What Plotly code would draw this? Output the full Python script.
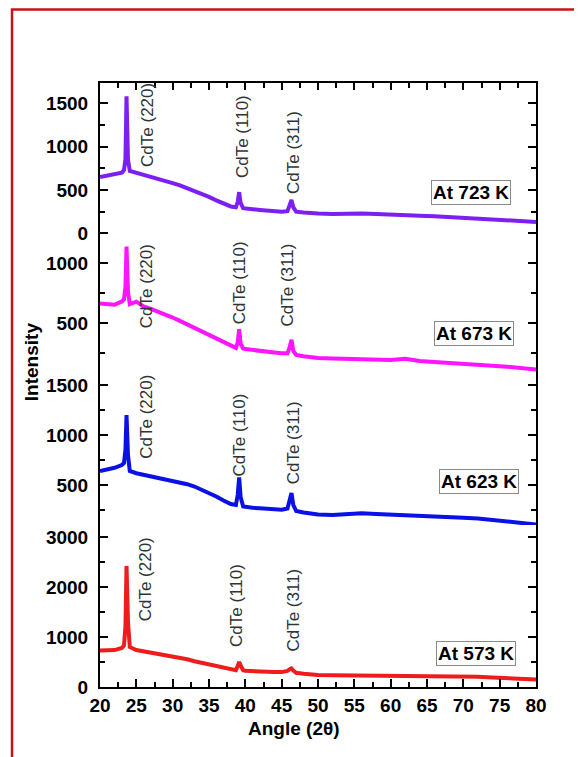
import plotly.graph_objects as go
from plotly.subplots import make_subplots

# ---- data ----
angle = [20, 21, 22, 23, 23.3, 23.5, 23.65, 23.85, 24.1, 25, 26, 27, 28, 29, 30, 31, 32, 33,
         34, 35, 36, 37, 38, 38.7, 38.95, 39.15, 39.35, 39.7, 40, 41, 42, 43, 44, 45, 45.8,
         46.1, 46.35, 46.6, 47, 48, 49, 50, 52, 54, 56, 58, 60, 62, 64, 66, 68, 70, 72, 74,
         76, 78, 80]

i_723 = [650, 665, 680, 700, 730, 850, 1580, 850, 720, 700, 675, 650, 628, 605, 580, 552, 520, 490,
         455, 420, 380, 345, 310, 300, 360, 475, 350, 290, 285, 278, 270, 262, 256, 250, 255,
         320, 385, 300, 250, 240, 232, 228, 224, 228, 230, 222, 212, 208, 203, 198, 190, 182, 175, 165,
         158, 148, 132]

i_673 = [665, 660, 655, 680, 700, 800, 1140, 760, 660, 680, 640, 620, 598, 575, 548, 520, 490, 460,
         430, 400, 370, 340, 310, 295, 340, 450, 330, 290, 285, 276, 269, 262, 256, 250, 250,
         300, 362, 270, 236, 225, 215, 210, 206, 204, 202, 198, 194, 205, 185, 178, 172, 166, 158, 147,
         138, 128, 115]

i_623 = [640, 655, 672, 700, 720, 850, 1200, 800, 640, 618, 602, 590, 580, 562, 548, 528, 508, 485,
         455, 420, 385, 345, 310, 300, 400, 575, 380, 285, 280, 272, 267, 262, 257, 252, 265,
         340, 420, 300, 240, 225, 212, 205, 200, 210, 218, 210, 202, 195, 188, 183, 178, 172, 165, 152,
         140, 125, 105]

i_573 = [730, 735, 738, 780, 830, 1200, 2420, 1300, 800, 740, 715, 695, 675, 645, 620, 592, 555, 515,
         480, 448, 415, 380, 345, 335, 420, 500, 430, 335, 325, 315, 302, 300, 298, 298, 320,
         355, 370, 330, 285, 265, 250, 240, 235, 233, 232, 232, 232, 230, 225, 220, 215, 210, 205, 190,
         178, 165, 152]

series = [("At 723 K", i_723, "#7d1ff0"),
          ("At 673 K", i_673, "#ff14ff"),
          ("At 623 K", i_623, "#0a10e6"),
          ("At 573 K", i_573, "#ee1c1c")]

y_ranges = [[-77, 1734], [44, 1194], [100, 1570], [0, 3240]]
y_dtick = [500, 500, 500, 1000]

peak_labels = ["CdTe (220)", "CdTe (110)", "CdTe (311)"]
# label centres (angle, intensity) per panel
peak_label_x = [[26.6, 39.7, 46.7], [26.5, 39.3, 45.8], [26.3, 39.06, 46.6], [26.2, 38.8, 46.6]]
peak_label_y = [[1250, 1112, 927], [811, 836, 819], [1180, 1000, 920], [2154, 1634, 1534]]
box_x = [71.1, 71.5, 72.1, 71.8]
box_y = [471, 411, 537, 664]

FONT = "Liberation Sans, Arial, sans-serif"

fig = make_subplots(rows=4, cols=1, shared_xaxes=True, vertical_spacing=0,
                    row_heights=[157, 138, 147, 162])

for k, (name, vals, col) in enumerate(series):
    fig.add_trace(go.Scatter(x=angle, y=vals, mode="lines", name=name,
                             line=dict(color=col, width=4), showlegend=False),
                  row=k + 1, col=1)
    r = k + 1
    fig.update_yaxes(row=r, col=1, range=y_ranges[k], dtick=y_dtick[k], tick0=0,
                     showline=True, linecolor="black", linewidth=2, mirror="ticks",
                     ticks="inside", ticklen=8, tickwidth=1.5, tickcolor="black",
                     minor=dict(ticks="inside", ticklen=5, tickwidth=1.5, tickcolor="black",
                                dtick=y_dtick[k] / 2, tick0=0),
                     showgrid=False, zeroline=False, ticklabelstandoff=6,
                     tickfont=dict(family=FONT, size=19, color="black", weight="bold"))
    yref = "y" if r == 1 else f"y{r}"
    for j in range(3):
        fig.add_annotation(x=peak_label_x[k][j], y=peak_label_y[k][j], xref="x", yref=yref,
                           text=peak_labels[j], textangle=-90, showarrow=False,
                           xanchor="center", yanchor="middle",
                           font=dict(family=FONT, size=17, color="#2e3535"))
    fig.add_annotation(x=box_x[k], y=box_y[k], xref="x", yref=yref, text=name,
                       showarrow=False, bordercolor="#8a8a8a", borderwidth=1, borderpad=1,
                       bgcolor="white", xanchor="center", yanchor="middle",
                       font=dict(family=FONT, size=19, color="black", weight="bold"))

for r in (1, 2, 3):
    fig.update_xaxes(row=r, col=1, showticklabels=False, showgrid=False, zeroline=False)
fig.update_xaxes(row=2, col=1, ticks="", showline=False)
fig.update_xaxes(row=3, col=1, ticks="", showline=False)
fig.update_xaxes(row=1, col=1, side="top", showline=True, linecolor="black", linewidth=2,
                 ticks="inside", ticklen=7, tickwidth=1.5, tickcolor="black", dtick=5, tick0=20,
                 minor=dict(ticks="inside", ticklen=5, tickwidth=1.5, tickcolor="black", dtick=2.5))
fig.update_xaxes(row=4, col=1, range=[20, 80], dtick=5, tick0=20, showline=True,
                 linecolor="black", linewidth=2, ticks="inside", ticklen=8, tickwidth=1.5,
                 tickcolor="black", showgrid=False, zeroline=False, ticklabelstandoff=0,
                 minor=dict(ticks="inside", ticklen=5, tickwidth=1.5, tickcolor="black", dtick=2.5),
                 tickfont=dict(family=FONT, size=19, color="black", weight="bold"))
fig.update_xaxes(range=[20, 80])

fig.add_annotation(x=0.445, y=-0.0695, xref="paper", yref="paper", text="Angle (2θ)",
                   xanchor="center", yanchor="middle",
                   showarrow=False, font=dict(family=FONT, size=19, color="black", weight="bold"))
fig.add_annotation(x=-0.158, y=0.538, xref="paper", yref="paper", text="Intensity",
                   textangle=-90, showarrow=False, xanchor="center", yanchor="middle",
                   font=dict(family=FONT, size=19, color="black", weight="bold"))

# red frame around the figure (top edge kept just inside the drawable area)
fig.add_shape(type="rect", xref="paper", yref="paper", x0=-0.2018, x1=1.3, y0=-0.3, y1=1.1217,
              line=dict(color="#c81418", width=2.5), fillcolor="rgba(0,0,0,0)", layer="below")

# the page body adds an 8 px offset, so the figure is 8 px smaller with 8 px less top/left margin
fig.update_layout(width=574, height=749, margin=dict(l=92, r=46, t=75, b=70),
                  paper_bgcolor="white", plot_bgcolor="white", showlegend=False)

fig.write_html("out.html")
